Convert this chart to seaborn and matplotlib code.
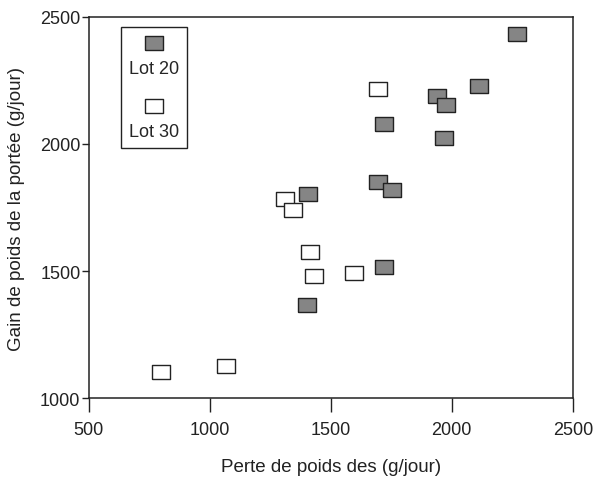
import matplotlib
matplotlib.use("Agg")
import matplotlib.pyplot as plt
import seaborn as sns
import pandas as pd
from matplotlib.offsetbox import VPacker

# valeurs
lot20_x = [2270, 2112, 1938, 1975, 1719, 1967, 1694, 1752, 1405, 1719, 1401]
lot20_y = [2432, 2228, 2190, 2152, 2077, 2025, 1852, 1818, 1805, 1518, 1368]
lot30_x = [1694, 1312, 1345, 1415, 1432, 1598, 800, 1065]
lot30_y = [2218, 1785, 1740, 1577, 1482, 1492, 1105, 1125]

df20 = pd.DataFrame({'perte': lot20_x, 'gain': lot20_y})
df30 = pd.DataFrame({'perte': lot30_x, 'gain': lot30_y})

sns.set_theme(style="ticks")
plt.rcParams['font.family'] = ['Liberation Sans', 'DejaVu Sans']

# marqueur rectangulaire (plus large que haut)
rect = [(-1, -0.72), (1, -0.72), (1, 0.72), (-1, 0.72), (-1, -0.72)]

fig, ax = plt.subplots(figsize=(5.96, 4.81), dpi=100)
fig.subplots_adjust(left=0.149, right=0.961, bottom=0.170, top=0.963)

sns.scatterplot(data=df20, x='perte', y='gain', marker=rect, s=175,
                color='#858585', edgecolor='#222222', linewidth=1.0,
                label='Lot 20', ax=ax, zorder=3)
sns.scatterplot(data=df30, x='perte', y='gain', marker=rect, s=175,
                color='white', edgecolor='#222222', linewidth=1.0,
                label='Lot 30', ax=ax, zorder=3)

ax.set_xlim(500, 2500)
ax.set_ylim(1000, 2500)
ax.set_xticks([500, 1000, 1500, 2000, 2500])
ax.set_yticks([1000, 1500, 2000, 2500])
ax.set_xlabel('Perte de poids des (g/jour)', fontsize=13.5, color='#222222', labelpad=14)
ax.set_ylabel('Gain de poids de la portée (g/jour)', fontsize=13.5, color='#222222', labelpad=11)
ax.tick_params(axis='x', length=10, width=1, pad=6.5, labelsize=13, colors='#222222')
ax.tick_params(axis='y', length=5, width=1, pad=1, labelsize=13, colors='#222222')
for sp in ax.spines.values():
    sp.set_color('#222222')
    sp.set_linewidth(1.1)
    sp.set_visible(True)

# légende : marqueur au-dessus du texte
leg = ax.legend(loc='upper left', bbox_to_anchor=(0.066, 0.974), borderaxespad=0,
                fancybox=False, edgecolor='#222222', fontsize=13,
                handlelength=1.2, labelspacing=1.15, borderpad=0.45,
                handletextpad=0.3, framealpha=1)
leg.get_frame().set_linewidth(1.0)
for col in leg._legend_handle_box.get_children():
    for row in col.get_children():
        row.__class__ = VPacker
        row.align = 'center'
        row.sep = 9

plt.savefig('out.png', dpi=100)
